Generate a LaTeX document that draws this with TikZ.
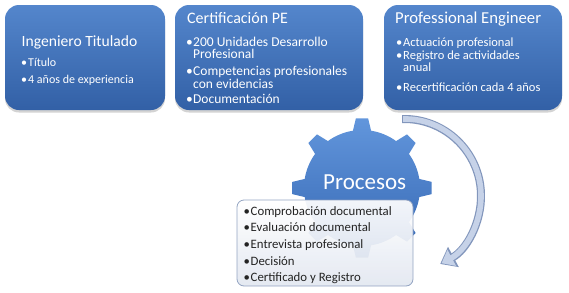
\documentclass[tikz,border=0pt]{standalone}
\usepackage{fontspec}
\setmainfont{Carlito}
\usetikzlibrary{arrows.meta,shadows}
\definecolor{boxtop}{RGB}{84,134,204}
\definecolor{boxbottom}{RGB}{50,96,166}
\definecolor{geartop}{RGB}{98,150,220}
\definecolor{gearbottom}{RGB}{52,102,178}
\definecolor{listedge}{RGB}{140,158,190}
\definecolor{listbottom}{RGB}{226,231,240}
\definecolor{listtext}{RGB}{35,35,35}
\definecolor{arrowedge}{RGB}{130,150,188}
\definecolor{arrowfill}{RGB}{198,210,232}
\newcommand{\itembul}{\makebox[7pt][l]{\textbullet}}
\newcommand{\itemgap}{\hspace*{7pt}}
\tikzset{
  bluebox/.style={rounded corners=14pt, top color=boxtop, bottom color=boxbottom,
    drop shadow={opacity=0.35, shadow xshift=0pt, shadow yshift=-2.5pt}},
  boxtitle/.style={white, font=\fontsize{16}{16}\selectfont, anchor=base west, inner sep=0pt},
  boxitem/.style={white, font=\fontsize{12.5}{12.5}\selectfont, anchor=base west, inner sep=0pt},
  listitem/.style={listtext, font=\fontsize{12.8}{12.8}\selectfont, anchor=base west, inner sep=0pt}
}

\begin{document}
\begin{tikzpicture}[x=1pt, y=-1pt]
      \useasboundingbox (0,0) rectangle (569,292);
      % Ingeniero Titulado
      \shade[bluebox] (5,5) rectangle (165,110);
      \node[boxtitle, font=\fontsize{15.6}{15.6}\selectfont] (ingtitle) at (21.5,46.5) {Ingeniero Titulado};
      \node[boxitem, font=\fontsize{12}{12}\selectfont] (ing1) at (21,66.5) {\itembul Título};
      \node[boxitem, font=\fontsize{12}{12}\selectfont] (ing2) at (21,83.5) {\itembul 4 años de experiencia};
      % Certificacion PE
      \shade[bluebox] (175,5) rectangle (363,110);
      \node[boxtitle] (certitle) at (187,23) {Certificación PE};
      \node[boxitem, font=\fontsize{13.5}{13.5}\selectfont] (cer1) at (186,46.5) {\itembul 200 Unidades Desarrollo};
      \node[boxitem, font=\fontsize{13.5}{13.5}\selectfont] (cer1b) at (186,58.5) {\itemgap Profesional};
      \node[boxitem, font=\fontsize{13.5}{13.5}\selectfont] (cer2) at (186,75.5) {\itembul Competencias profesionales};
      \node[boxitem, font=\fontsize{13.5}{13.5}\selectfont] (cer2b) at (186,88.5) {\itemgap con evidencias};
      \node[boxitem, font=\fontsize{13.5}{13.5}\selectfont] (cer3) at (186,103) {\itembul Documentación};
      % Professional Engineer
      \shade[bluebox] (384,5) rectangle (562,110);
      \node[boxtitle, font=\fontsize{16.7}{16.7}\selectfont] (pentitle) at (395,23) {Professional Engineer};
      \node[boxitem] (pen1) at (396,46) {\itembul Actuación profesional};
      \node[boxitem] (pen2) at (396,59.5) {\itembul Registro de actividades};
      \node[boxitem] (pen2b) at (396,71.5) {\itemgap anual};
      \node[boxitem] (pen3) at (396,91) {\itembul Recertificación cada 4 años};
      % cycle arrow
      \coordinate (arcstart) at (402,119);
      \draw[arrowedge, line width=8pt, -{Triangle[length=15pt,width=22pt]}]
        (arcstart) arc[start angle=91.5, end angle=-62, radius=77pt];
      \draw[arrowfill, line width=5.6pt, shorten <=1pt, shorten >=1.6pt, -{Triangle[length=11.5pt,width=17.5pt]}]
        (arcstart) arc[start angle=91.5, end angle=-62, radius=77pt];
      % gear
      \begin{scope}[shift={(362,188)}]
        \shade[top color=geartop, bottom color=gearbottom] (81:58pt)
          \foreach \a in {90,135,...,405} {
            -- ({\a-9}:58pt) -- ({\a-5}:70pt) -- ({\a+5}:70pt) -- ({\a+9}:58pt)
            arc[start angle={\a+9}, end angle={\a+36}, radius=58pt]
          } -- cycle;
      \end{scope}
      \node[white, font=\fontsize{23}{23}\selectfont, anchor=base west, inner sep=0pt]
        (proctitle) at (323,189) {Procesos};
      % list of steps
      \shade[top color=white, bottom color=listbottom, draw=listedge, line width=0.8pt,
        rounded corners=7pt, opacity=0.93] (237,200) rectangle (413,286);
      \node[listitem] (step1) at (243.5,215.5) {\itembul Comprobación documental};
      \node[listitem] (step2) at (243.5,231.5) {\itembul Evaluación documental};
      \node[listitem] (step3) at (243.5,248.5) {\itembul Entrevista profesional};
      \node[listitem] (step4) at (243.5,265.5) {\itembul Decisión};
      \node[listitem] (step5) at (243.5,281.5) {\itembul Certificado y Registro};
\end{tikzpicture}
\end{document}
